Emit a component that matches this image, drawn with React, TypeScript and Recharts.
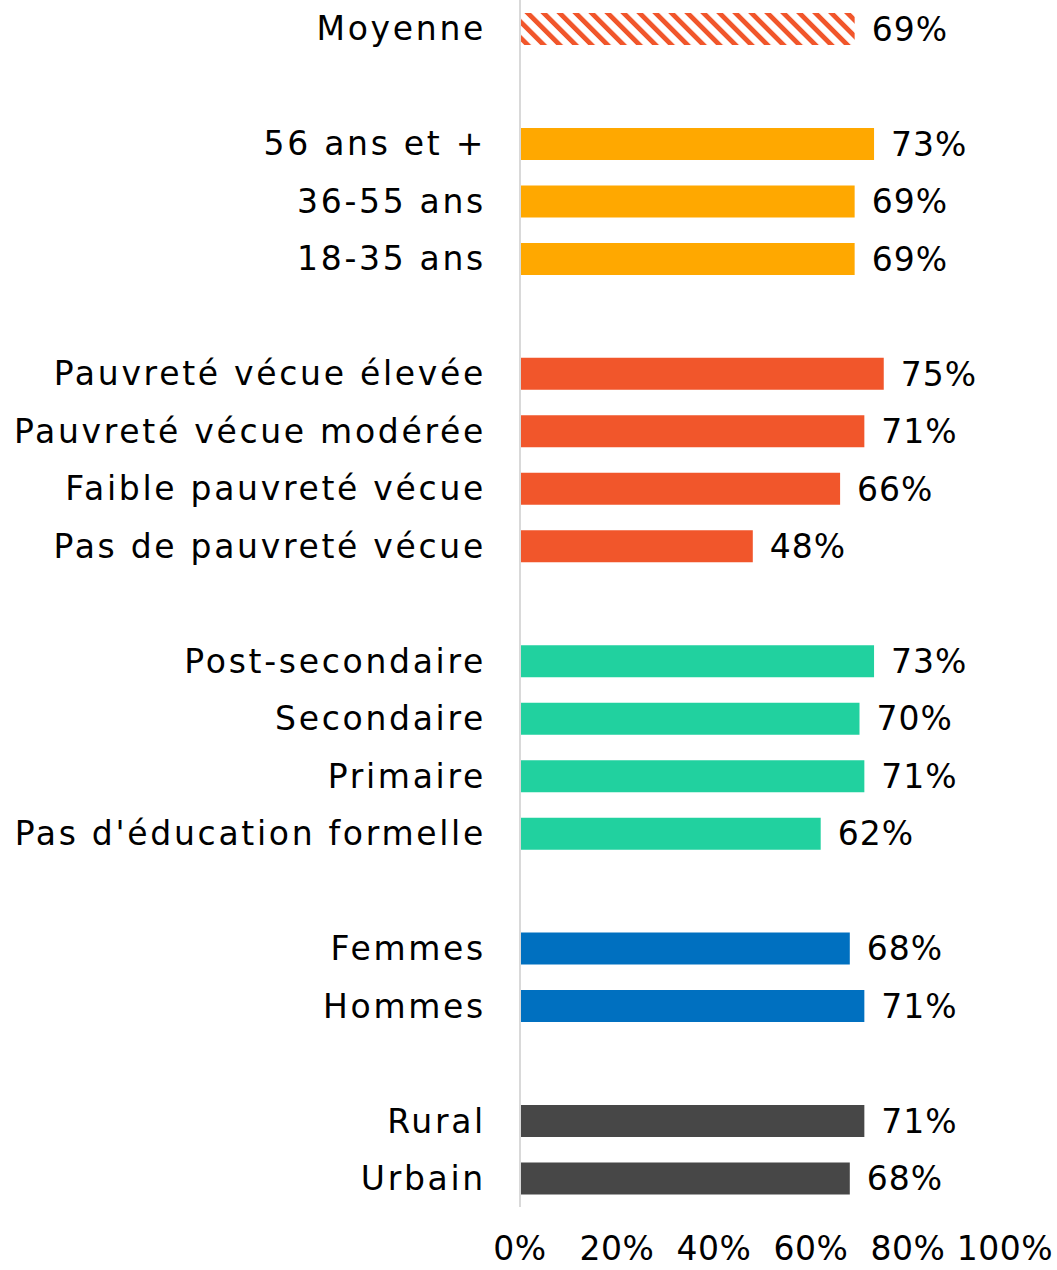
import { BarChart, Bar, XAxis, YAxis, Cell, LabelList } from 'recharts';

// one row per line of the chart, '' rows are the blank spacers between groups
const categories = [
  'Moyenne', '',
  '56 ans et +', '36-55 ans', '18-35 ans', '',
  'Pauvreté vécue élevée', 'Pauvreté vécue modérée', 'Faible pauvreté vécue', 'Pas de pauvreté vécue', '',
  'Post-secondaire', 'Secondaire', 'Primaire', "Pas d'éducation formelle", '',
  'Femmes', 'Hommes', '',
  'Rural', 'Urbain',
];

const values = [
  69, null,
  73, 69, 69, null,
  75, 71, 66, 48, null,
  73, 70, 71, 62, null,
  68, 71, null,
  71, 68,
];

const colors = [
  'url(#hatch)', '',
  '#FFA800', '#FFA800', '#FFA800', '',
  '#F1562B', '#F1562B', '#F1562B', '#F1562B', '',
  '#21D19F', '#21D19F', '#21D19F', '#21D19F', '',
  '#0070C0', '#0070C0', '',
  '#474747', '#474747',
];

const xTicks = [0, 20, 40, 60, 80, 100];

const data = categories.map((name, i) => ({ key: `r${i}`, name, value: values[i] }));

const font = '"DejaVu Sans", sans-serif';

const App = () => {
  return (
    <div style={{ position: 'absolute', left: 0, top: 0, background: '#fff' }}>
      <BarChart
        width={1057}
        height={1270}
        data={data}
        layout="vertical"
        margin={{ top: 0, right: 52, bottom: 0, left: 0 }}
        barSize={32}
      >
        <defs>
          <pattern id="hatch" patternUnits="userSpaceOnUse" width={11.3} height={11.3} patternTransform="rotate(-45)">
            <rect x={0} y={0} width={4.8} height={11.3} fill="#F1562B" />
          </pattern>
        </defs>
        <XAxis
          type="number"
          domain={[0, 100]}
          ticks={xTicks}
          tickFormatter={(v: number) => `${v}%`}
          axisLine={false}
          tickLine={false}
          tickSize={0}
          tickMargin={30}
          height={63}
          interval={0}
          tick={{ fill: '#000', fontSize: 33, fontFamily: font, letterSpacing: 0.5 }}
        />
        <YAxis
          type="category"
          dataKey="key"
          width={520}
          tickFormatter={(k: string) => data.find((d) => d.key === k)?.name ?? ''}
          axisLine={{ stroke: '#D9D9D9', strokeWidth: 2 }}
          tickLine={false}
          tickSize={0}
          tickMargin={34}
          interval={0}
          tick={{ fill: '#000', fontSize: 33, fontFamily: font, letterSpacing: 2.7 }}
        />
        <Bar dataKey="value" isAnimationActive={false}>
          {data.map((d, i) => (
            <Cell key={d.key} fill={colors[i] || 'none'} />
          ))}
          <LabelList
            dataKey="value"
            position="right"
            offset={17}
            formatter={(v: any) => (v == null ? '' : `${v}%`)}
            style={{ fill: '#000', fontSize: 33, fontFamily: font, letterSpacing: 1 }}
          />
        </Bar>
      </BarChart>
    </div>
  );
};

export default App;
